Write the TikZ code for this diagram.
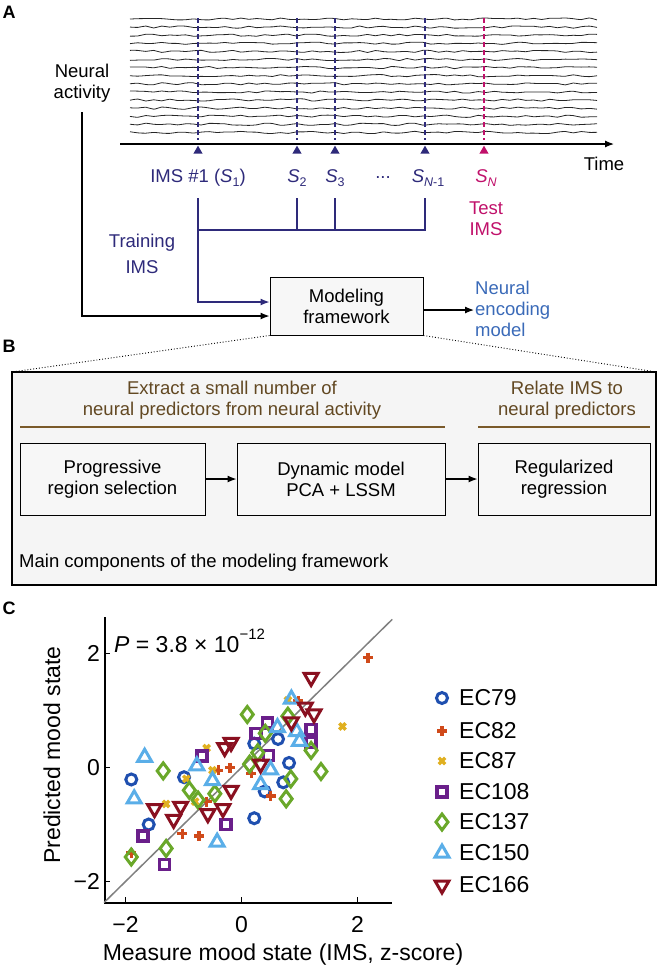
\documentclass[tikz,border=0pt]{standalone}
\usepackage{fontspec}
\setmainfont{Liberation Sans}
\usetikzlibrary{arrows.meta,plotmarks,shapes.geometric}
\definecolor{navy}{HTML}{2E2A7A}
\definecolor{mag}{HTML}{C0106A}
\definecolor{encblue}{HTML}{3A6AB8}
\definecolor{brn}{HTML}{7A5A2A}
\definecolor{c79}{HTML}{1F4FAF}
\definecolor{c82}{HTML}{D04A1A}
\definecolor{c87}{HTML}{E0B020}
\definecolor{c108}{HTML}{6A1F8A}
\definecolor{c137}{HTML}{6AA82A}
\definecolor{c150}{HTML}{5AAEE8}
\definecolor{c166}{HTML}{8A1020}
\newcommand\sub[1]{\raisebox{-0.35ex}{\fontsize{12.5}{13}\selectfont #1}}
\tikzset{
 txt/.style={font=\fontsize{18.5}{21}\selectfont, align=center, inner sep=1pt},
 big/.style={font=\fontsize{23}{25}\selectfont, inner sep=1pt},
 lbl/.style={font=\fontsize{18}{19}\selectfont\bfseries, inner sep=0pt},
 box/.style={draw, line width=1pt, fill=gray!6, txt, minimum height=58pt},
 arr/.style={-{Latex[length=9pt,width=7pt]}, line width=1.2pt},
 dline/.style={navy, line width=1.6pt, dash pattern=on 5pt off 3pt},
 tri/.style={isosceles triangle, isosceles triangle apex angle=60, shape border rotate=90, inner sep=0pt, minimum size=8pt, fill=navy},
 mk/.style={only marks, line width=1.8pt},
}
\begin{document}
\begin{tikzpicture}[x=1pt,y=-1pt]
\useasboundingbox (0,0) rectangle (660,970);
% ---------- A
\node[lbl] (A) at (9,12) {A};
\pgfmathsetseed{11}
\foreach \i in {0,...,14}{
  \draw[line width=0.8pt, black!85] plot[domain=130:597, samples=60, smooth] (\x, {19+\i*8.1 + 1.1*rand});
}
\draw[arr] (120,144) -- (614,144);
\node[txt] (time) at (604,164) {Time};
\foreach \xx/\n in {198/a,297/b,335/c,425/d}{
  \draw[dline] (\xx,18) -- (\xx,140);
  \node[tri] (t\n) at (\xx,151) {};
}
\draw[mag, line width=1.6pt, dash pattern=on 5pt off 3pt] (484,18) -- (484,140);
\node[tri, fill=mag] (te) at (484,151) {};
\node[txt, text=navy] (s1) at (198,178) {IMS \#1 (\textit{S}\sub{1})};
\node[txt, text=navy] (s2) at (297,178) {\textit{S}\sub{2}};
\node[txt, text=navy] (s3) at (335,178) {\textit{S}\sub{3}};
\node[txt, text=navy] (sd) at (383,178) {...};
\node[txt, text=navy] (sn1) at (428,178) {\textit{S}\sub{\textit{N}-1}};
\node[txt, text=mag] (sn) at (486,178) {\textit{S}\sub{\textit{N}}};
\node[txt, text=mag] (test) at (486,219) {Test\\IMS};
\node[txt, text=navy] (train) at (142,254) {Training\\[5pt]IMS};
\node[txt] (neural) at (82,83) {Neural\\activity};
\node[box, minimum width=153pt] (mf) at (346.5,306) {Modeling\\framework};
\node[txt, text=encblue, align=left, anchor=west] (enc) at (474,309) {Neural\\encoding\\model};
\coordinate (j) at (198,230);
\draw[navy, line width=1.2pt] (198,198) -- (j) -- (425,230) -- (425,198);
\draw[navy, line width=1.2pt] (297,198) -- (297,230) (335,198) -- (335,230);
\draw[arr, navy] (j) |- (mf.west |- 0,302);
\draw[arr] (neural.south |- 0,112) |- (mf.west |- 0,316);
\draw[arr] (mf.east |- 0,310) -- (enc.west |- 0,310);
% ---------- B
\node[lbl] (B) at (9,346) {B};
\draw[line width=0.9pt, dotted] (mf.south west) -- (12,372) (mf.south east) -- (656,372);
\draw[line width=1.3pt, fill=gray!8] (12,372) rectangle (656,585);
\node[txt, text=brn!80!black] (ex) at (232,400) {Extract a small number of\\neural predictors from neural activity};
\node[txt, text=brn!80!black] (rel) at (567,400) {Relate IMS to\\neural predictors};
\draw[brn, line width=1.3pt] (20,427) -- (445,427) (478,427) -- (650,427);
\node[box, minimum width=185pt, minimum height=72pt] (p1) at (112.5,479) {Progressive\\region selection};
\node[box, minimum width=208pt, minimum height=72pt] (p2) at (341,479) {Dynamic model\\PCA + LSSM};
\node[box, minimum width=172pt, minimum height=72pt] (p3) at (564,479) {Regularized\\regression};
\draw[arr] (p1) -- (p2);
\draw[arr] (p2) -- (p3);
\node[txt, anchor=west] (main) at (18,563) {Main components of the modeling framework};
% ---------- C
\node[lbl] (C) at (9,608) {C};
\draw[line width=1.3pt] (105,617) -- (105,903) -- (392,903);
\node[big] (xl) at (283,955) {Measure mood state (IMS, z-score)};
\node[big, rotate=90] (yl) at (52,755) {Predicted mood state};
\node[big, anchor=west] (pv) at (113,641) {\textit{P} = 3.8 × 10\raisebox{1.1ex}{\fontsize{15}{15}\selectfont −12}};
\begin{scope}[shift={(241.5,767.5)}, x=58pt, y=57pt]
 \foreach \v/\s in {-2/−2,0/0,2/2}{
  \draw[line width=1.2pt] (\v,-2.37) -- (\v,-2.27);
  \node[big] at (\v,-2.75) {\s};
  \draw[line width=1.2pt] (-2.37,\v) -- (-2.27,\v);
  \node[big, anchor=east] at (-2.42,\v) {\s};
 }
 \draw[gray, line width=1.5pt] (-2.37,-2.37) -- (2.6,2.6);
 \draw[c79] plot[mk, mark=o, mark size=5.5pt, mark options={line width=3pt}] coordinates {(-1.9,-0.21) (-0.99,-0.17) (-1.6,-1.0) (0.22,-0.89) (0.22,0.42) (0.63,0.5) (0.82,0.08) (0.72,-0.26) (0.4,-0.42)};
 \draw[c82] plot[mk, mark=+, mark size=5pt, mark options={line width=3.4pt}] coordinates {(2.18,1.93) (-1.02,-1.16) (-0.73,-1.2) (-1.9,-1.5) (-0.4,-0.05) (-0.2,0) (0.17,-0.1) (0.5,-0.5) (0.98,1.17) (-0.6,-0.6)};
 \draw[c87] plot[mk, mark=x, mark size=4.5pt, mark options={line width=3.4pt}] coordinates {(1.74,0.72) (-0.6,0.34) (-0.5,-0.05) (-0.95,-0.2) (-1.3,-0.64) (0.8,1.18) (-0.8,-0.6)};
 \draw[c108] plot[mk, mark=square, mark size=5pt, mark options={line width=3.4pt}] coordinates {(-1.33,-1.7) (-1.7,-1.2) (-0.27,-1.0) (-0.68,0.2) (0.45,0.78) (0.25,0.6) (1.2,0.67) (0.47,0.21) (1.2,0.44)};
 \draw[c137] plot[mk, mark=diamond, mark size=8pt, mark options={line width=3pt}] coordinates {(-1.9,-1.57) (-1.3,-1.42) (-1.35,-0.06) (-0.9,-0.4) (-0.75,-0.57) (-0.46,-0.46) (0.1,0.93) (0.14,0.06) (0.28,0.26) (0.41,0.6) (0.85,-0.2) (0.77,-0.55) (1.2,0.3) (1.37,-0.07) (0.8,0.9)};
 \draw[c150] plot[mk, mark=triangle, mark size=8pt, mark options={line width=3pt}] coordinates {(-1.67,0.18) (-1.85,-0.55) (-0.77,0.03) (-0.5,-0.23) (-0.42,-1.31) (0.33,-0.3) (0.5,-0.04) (0.86,1.2) (0.95,0.63) (1.0,0.46) (0.62,0.7)};
 \draw[c166] plot[mk, mark=triangle, mark size=8pt, mark options={line width=3pt, rotate=180}] coordinates {(1.2,1.58) (1.1,1.06) (1.25,0.94) (0.86,0.8) (-0.18,0.44) (-0.29,0.35) (0.33,0.06) (-0.18,-0.4) (-0.32,-0.72) (-0.58,-0.81) (-1.17,-0.91) (-1.05,-0.68) (-1.5,-0.72)};
\end{scope}
% legend
\foreach \yy/\c/\m/\s/\r/\w/\t in {698/c79/o/5.5/0/3/EC79, 731/c82/+/5/0/3.4/EC82, 761/c87/x/4.5/0/3.4/EC87, 792/c108/square/5/0/3.4/EC108, 822/c137/diamond/8/0/3/EC137, 853/c150/triangle/8/0/3/EC150, 885/c166/triangle/8/180/3/EC166}{
  \draw[\c] plot[mk, mark=\m, mark size=\s pt, mark options={line width=\w pt, rotate=\r}] coordinates {(442,\yy)};
  \node[big, anchor=west] at (458,\yy) {\t};
}
\end{tikzpicture}
\end{document}
